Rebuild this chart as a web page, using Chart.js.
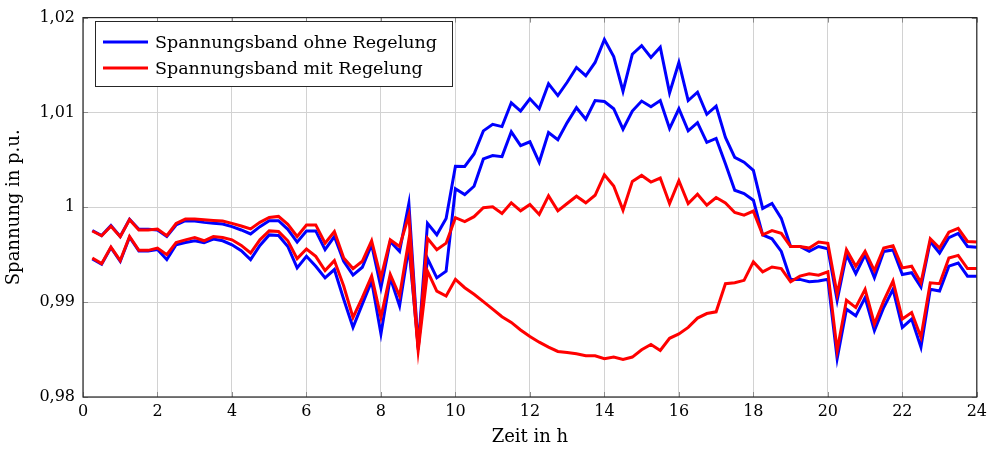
<!DOCTYPE html>
<html>
<head>
<meta charset="utf-8">
<script src="https://cdn.jsdelivr.net/npm/chart.js@4.4.1/dist/chart.umd.min.js"></script>
<style>
  html, body { margin: 0; padding: 0; background: #fff; }
  #wrap { width: 992px; height: 450px; }
</style>
</head>
<body>
<div id="wrap"><canvas id="chart" width="992" height="450"></canvas></div>
<script>
// Zeitpunkte (Viertelstunden) in h
const hours = [
  0.25, 0.5, 0.75, 1, 1.25, 1.5, 1.75, 2, 2.25, 2.5, 2.75, 3,
  3.25, 3.5, 3.75, 4, 4.25, 4.5, 4.75, 5, 5.25, 5.5, 5.75, 6,
  6.25, 6.5, 6.75, 7, 7.25, 7.5, 7.75, 8, 8.25, 8.5, 8.75, 9,
  9.25, 9.5, 9.75, 10, 10.25, 10.5, 10.75, 11, 11.25, 11.5, 11.75, 12,
  12.25, 12.5, 12.75, 13, 13.25, 13.5, 13.75, 14, 14.25, 14.5, 14.75, 15,
  15.25, 15.5, 15.75, 16, 16.25, 16.5, 16.75, 17, 17.25, 17.5, 17.75, 18,
  18.25, 18.5, 18.75, 19, 19.25, 19.5, 19.75, 20, 20.25, 20.5, 20.75, 21,
  21.25, 21.5, 21.75, 22, 22.25, 22.5, 22.75, 23, 23.25, 23.5, 23.75, 24
];

// Spannungsband ohne Regelung (blau): obere und untere Grenze
const ohneMax = [
  0.99755, 0.99702, 0.99807, 0.99692, 0.99873, 0.99768, 0.99768, 0.99761, 0.99692, 0.99814, 0.99859, 0.99855,
  0.99841, 0.99831, 0.99824, 0.99796, 0.99761, 0.99719, 0.99796, 0.99859, 0.99859, 0.99768, 0.99633, 0.99751,
  0.99751, 0.99553, 0.99692, 0.99431, 0.99285, 0.99368, 0.99605, 0.99152, 0.99640, 0.99535, 1.00040, 0.98520,
  0.99831, 0.99710, 0.99883, 1.00433, 1.00430, 1.00562, 1.00806, 1.00875, 1.00851, 1.01102, 1.01015, 1.01144,
  1.01039, 1.01303, 1.01178, 1.01318, 1.01474, 1.01387, 1.01527, 1.01770, 1.01589, 1.01224, 1.01614, 1.01704,
  1.01579, 1.01687, 1.01206, 1.01527, 1.01126, 1.01213, 1.00980, 1.01067, 1.00736, 1.00527, 1.00475, 1.00389,
  0.99988, 1.00040, 0.99883, 0.99587, 0.99587, 0.99535, 0.99587, 0.99563, 0.99020, 0.99500, 0.99300, 0.99500,
  0.99256, 0.99535, 0.99550, 0.99292, 0.99310, 0.99159, 0.99640, 0.99518, 0.99681, 0.99726, 0.99587, 0.99580
];
const ohneMin = [
  0.99455, 0.99400, 0.99575, 0.99430, 0.99685, 0.99540, 0.99540, 0.99555, 0.99448, 0.99605, 0.99629, 0.99647,
  0.99628, 0.99665, 0.99647, 0.99605, 0.99542, 0.99448, 0.99598, 0.99709, 0.99702, 0.99587, 0.99361, 0.99483,
  0.99379, 0.99256, 0.99344, 0.99030, 0.98734, 0.98979, 0.99222, 0.98665, 0.99256, 0.98961, 0.99580, 0.98530,
  0.99460, 0.99256, 0.99326, 1.00196, 1.00134, 1.00222, 1.00510, 1.00545, 1.00534, 1.00796, 1.00650, 1.00691,
  1.00475, 1.00789, 1.00712, 1.00893, 1.01050, 1.00928, 1.01126, 1.01116, 1.01039, 1.00823, 1.01015, 1.01120,
  1.01060, 1.01126, 1.00830, 1.01039, 1.00806, 1.00893, 1.00684, 1.00726, 1.00458, 1.00180, 1.00144, 1.00075,
  0.99710, 0.99668, 0.99535, 0.99240, 0.99240, 0.99215, 0.99222, 0.99240, 0.98404, 0.98926, 0.98856, 0.99048,
  0.98700, 0.98943, 0.99135, 0.98734, 0.98822, 0.98526, 0.99135, 0.99117, 0.99379, 0.99413, 0.99274, 0.99274
];

// Spannungsband mit Regelung (rot): obere und untere Grenze
const mitMax = [
  0.99750, 0.99700, 0.99800, 0.99690, 0.99870, 0.99760, 0.99760, 0.99770, 0.99700, 0.99829, 0.99876, 0.99876,
  0.99870, 0.99862, 0.99855, 0.99831, 0.99803, 0.99772, 0.99841, 0.99893, 0.99904, 0.99820, 0.99692, 0.99814,
  0.99814, 0.99622, 0.99744, 0.99465, 0.99354, 0.99431, 0.99647, 0.99256, 0.99657, 0.99587, 0.99918, 0.98500,
  0.99674, 0.99553, 0.99622, 0.99890, 0.99849, 0.99901, 0.99995, 1.00005, 0.99935, 1.00047, 0.99963, 1.00030,
  0.99925, 1.00120, 0.99963, 1.00040, 1.00117, 1.00047, 1.00127, 1.00343, 1.00225, 0.99970, 1.00273, 1.00336,
  1.00266, 1.00308, 1.00040, 1.00280, 1.00040, 1.00138, 1.00023, 1.00103, 1.00047, 0.99946, 0.99918, 0.99960,
  0.99710, 0.99755, 0.99726, 0.99587, 0.99587, 0.99570, 0.99633, 0.99620, 0.99083, 0.99553, 0.99379, 0.99535,
  0.99333, 0.99570, 0.99595, 0.99361, 0.99379, 0.99204, 0.99668, 0.99570, 0.99737, 0.99779, 0.99640, 0.99633
];
const mitMin = [
  0.99465, 0.99406, 0.99580, 0.99438, 0.99692, 0.99546, 0.99546, 0.99570, 0.99500, 0.99629, 0.99657, 0.99681,
  0.99647, 0.99692, 0.99681, 0.99657, 0.99598, 0.99518, 0.99657, 0.99751, 0.99744, 0.99647, 0.99459, 0.99560,
  0.99483, 0.99333, 0.99438, 0.99170, 0.98839, 0.99048, 0.99274, 0.98839, 0.99292, 0.99065, 0.99660, 0.98490,
  0.99326, 0.99117, 0.99065, 0.99240, 0.99152, 0.99083, 0.99006, 0.98926, 0.98846, 0.98786, 0.98707, 0.98637,
  0.98578, 0.98526, 0.98480, 0.98470, 0.98456, 0.98435, 0.98435, 0.98404, 0.98421, 0.98397, 0.98421, 0.98498,
  0.98553, 0.98491, 0.98619, 0.98665, 0.98734, 0.98832, 0.98880, 0.98898, 0.99194, 0.99204, 0.99230, 0.99424,
  0.99320, 0.99371, 0.99354, 0.99215, 0.99274, 0.99298, 0.99285, 0.99320, 0.98491, 0.99020, 0.98943, 0.99135,
  0.98770, 0.99013, 0.99222, 0.98822, 0.98891, 0.98630, 0.99204, 0.99194, 0.99465, 0.99493, 0.99354, 0.99354
];

const seriesNames = ['Spannungsband ohne Regelung', 'Spannungsband mit Regelung'];
const seriesColors = ['#0000ff', '#ff0000'];
const yTicks = [0.98, 0.99, 1.00, 1.01, 1.02];

const FONT = '"DejaVu Serif", serif';
const toPoints = vals => vals.map((v, i) => ({ x: hours[i], y: v }));

function lineSet(label, vals, color, order) {
  return {
    label,
    data: toPoints(vals),
    borderColor: color,
    backgroundColor: color,
    borderWidth: 3,
    pointRadius: 0,
    tension: 0,
    fill: false,
    order
  };
}

// Rahmen, innere Tick-Striche und Legende im Plotbereich
const framePlugin = {
  id: 'frame',
  afterDraw(chart) {
    const { ctx, chartArea: a, scales } = chart;
    ctx.save();
    ctx.strokeStyle = '#8c8c8c';
    ctx.lineWidth = 1;
    const tl = 5;
    scales.x.ticks.forEach(t => {
      const px = Math.round(scales.x.getPixelForValue(t.value)) + 0.5;
      ctx.beginPath();
      ctx.moveTo(px, a.bottom); ctx.lineTo(px, a.bottom - tl);
      ctx.moveTo(px, a.top); ctx.lineTo(px, a.top + tl);
      ctx.stroke();
    });
    scales.y.ticks.forEach(t => {
      const py = Math.round(scales.y.getPixelForValue(t.value)) + 0.5;
      ctx.beginPath();
      ctx.moveTo(a.left, py); ctx.lineTo(a.left + tl, py);
      ctx.moveTo(a.right, py); ctx.lineTo(a.right - tl, py);
      ctx.stroke();
    });
    ctx.strokeStyle = '#262626';
    ctx.lineWidth = 1.2;
    ctx.strokeRect(a.left, a.top, a.right - a.left, a.bottom - a.top);

    // Legende
    const bx = 95, by = 21, bw = 357, bh = 65;
    ctx.fillStyle = '#fff';
    ctx.fillRect(bx, by, bw, bh);
    ctx.strokeStyle = '#262626';
    ctx.lineWidth = 1;
    ctx.strokeRect(bx + 0.5, by + 0.5, bw, bh);
    ctx.font = '17.5px ' + FONT;
    ctx.textBaseline = 'middle';
    seriesNames.forEach((name, i) => {
      const cy = by + 21 + i * 26;
      ctx.strokeStyle = seriesColors[i];
      ctx.lineWidth = 3;
      ctx.beginPath();
      ctx.moveTo(bx + 8, cy); ctx.lineTo(bx + 53, cy);
      ctx.stroke();
      ctx.fillStyle = '#000';
      ctx.fillText(name, bx + 60, cy + 1);
    });
    ctx.restore();
  }
};

new Chart(document.getElementById('chart'), {
  type: 'line',
  data: {
    datasets: [
      lineSet(seriesNames[0], ohneMax, seriesColors[0], 1),
      lineSet(seriesNames[0], ohneMin, seriesColors[0], 1),
      lineSet(seriesNames[1], mitMax, seriesColors[1], 0),
      lineSet(seriesNames[1], mitMin, seriesColors[1], 0)
    ]
  },
  options: {
    responsive: false,
    animation: false,
    devicePixelRatio: 1,
    layout: { padding: { left: 0, right: 14, top: 14, bottom: 0 } },
    plugins: { legend: { display: false }, tooltip: { enabled: false } },
    scales: {
      x: {
        type: 'linear',
        min: 0, max: 24,
        afterFit: s => { s.height = 53; },
        grid: { color: '#d2d2d2', lineWidth: 1, drawTicks: false },
        border: { display: false },
        ticks: { stepSize: 2, padding: 5, color: '#000', font: { family: FONT, size: 16 } },
        title: { display: true, text: 'Zeit in h', color: '#000', padding: { top: 0, bottom: 2 }, font: { family: FONT, size: 18 } }
      },
      y: {
        min: 0.98, max: 1.02,
        afterFit: s => { s.width = 83; },
        afterBuildTicks: s => { s.ticks = yTicks.map(v => ({ value: v })); },
        grid: { color: '#d2d2d2', lineWidth: 1, drawTicks: false },
        border: { display: false },
        ticks: {
          padding: 8, color: '#000', font: { family: FONT, size: 16 },
          callback: v => (Math.round(v * 100) / 100).toLocaleString('de-DE')
        },
        title: { display: true, text: 'Spannung in p.u.', color: '#000', padding: { top: 4, bottom: 0 }, font: { family: FONT, size: 18 } }
      }
    }
  },
  plugins: [framePlugin]
});
</script>
</body>
</html>
